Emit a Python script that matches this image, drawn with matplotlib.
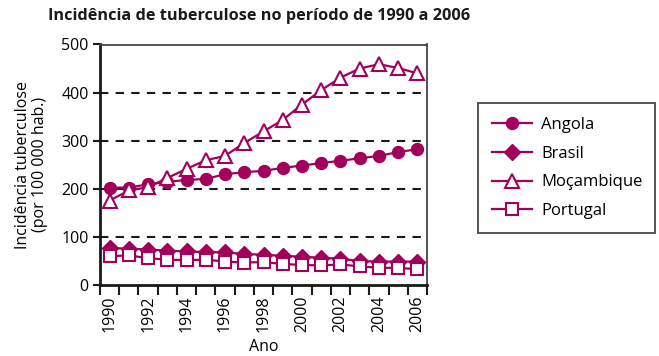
import numpy as np
import matplotlib
matplotlib.use('Agg')
import matplotlib.pyplot as plt

plt.rcParams['font.family'] = ['Open Sans', 'DejaVu Sans']

years = list(range(1990, 2007))
angola = [202, 202, 209, 214, 218, 220, 230, 234, 237, 243, 248, 253, 258, 263, 268, 276, 282]
brasil = [76, 75, 73, 71, 69, 68, 67, 64, 62, 60, 58, 56, 54, 49, 48, 48, 48]
mocambique = [175, 196, 203, 222, 241, 259, 268, 295, 319, 343, 375, 405, 431, 450, 459, 451, 440]
portugal = [59, 61, 55, 52, 51, 52, 48, 46, 47, 43, 41, 40, 42, 38, 35, 35, 32]

yticks = [0, 100, 200, 300, 400, 500]
grid_vals = [100, 200, 300, 400]

cor = '#a3005c'

fig = plt.figure(figsize=(6.59, 3.56), dpi=100)
ax = fig.add_axes([0.1517, 0.2005, 0.4963, 0.6745])

x = np.arange(len(years))

for g in grid_vals:
    ax.axhline(g, color='#1a1a1a', lw=1.5, ls=(0, (4, 3.5)), zorder=1)

ax.plot(x, angola, color=cor, lw=1.6, marker='o', ms=8.6, mfc=cor, mec=cor,
        label='Angola', zorder=3)
ax.plot(x, brasil, color=cor, lw=1.6, marker='D', ms=8, mfc=cor, mec=cor,
        label='Brasil', zorder=3)
ax.plot(x, mocambique, color=cor, lw=1.6, marker='^', ms=9.5, mfc='white', mec=cor,
        mew=1.5, label='Moçambique', zorder=4)
ax.plot(x, portugal, color=cor, lw=1.6, marker='s', ms=8.5, mfc='white', mec=cor,
        mew=1.5, label='Portugal', zorder=4)

ax.set_xlim(-0.5, len(years) - 0.5)
ax.set_ylim(0, 500)

ax.set_xticks(x[::2])
ax.set_xticklabels([str(a) for a in years[::2]], rotation=90, fontsize=11.5)
ax.set_xticks(np.arange(-0.5, len(years)), minor=True)
ax.tick_params(axis='x', which='major', length=0, pad=8)
ax.tick_params(axis='x', which='minor', length=7, width=1.5, color='#1a1a1a')

ax.set_yticks(yticks)
ax.set_yticklabels([str(v) for v in yticks], fontsize=11.5)
ax.tick_params(axis='y', length=5, width=1.5, color='#1a1a1a', pad=3)

for s in ['left', 'bottom']:
    ax.spines[s].set_linewidth(2)
    ax.spines[s].set_color('#1a1a1a')
for s in ['top', 'right']:
    ax.spines[s].set_linewidth(1.3)
    ax.spines[s].set_color('#444444')

ax.set_ylabel('Incidência tuberculose\n(por 100 000 hab.)', fontsize=11.5, labelpad=10,
              linespacing=1.05)
ax.set_xlabel('Ano', fontsize=11.5, labelpad=5)

fig.text(0.073, 0.955, 'Incidência de tuberculose no período de 1990 a 2006',
         fontsize=11.7, fontweight='bold', va='center', ha='left', color='#1a1a1a')

leg = fig.legend(loc='upper left', bbox_to_anchor=(0.725, 0.348, 0.269, 0.363),
                 mode='expand', fontsize=12,
                 frameon=True, fancybox=False, edgecolor='#1a1a1a',
                 handlelength=2.4, labelspacing=0.76, borderpad=0.85, handletextpad=0.55,
                 borderaxespad=0)
leg.get_frame().set_linewidth(1.3)

fig.savefig('out.png', dpi=100)
